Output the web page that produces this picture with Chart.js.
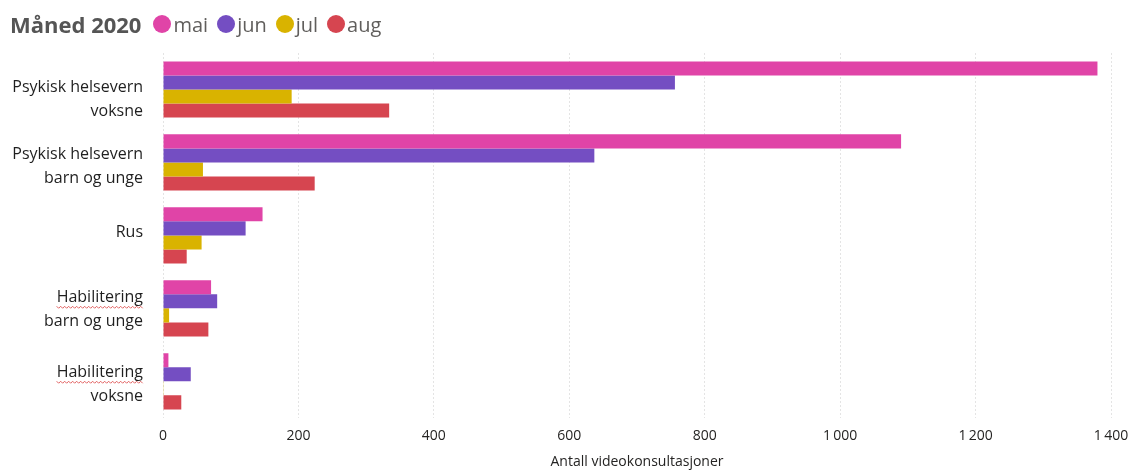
<!DOCTYPE html>
<html>
<head>
<meta charset="utf-8">
<script src="https://cdn.jsdelivr.net/npm/chart.js@4/dist/chart.umd.min.js"></script>
<style>
  html, body { margin: 0; padding: 0; background: #fff; }
  #wrap { position: relative; width: 1136px; height: 470px; }
  #legend {
    position: absolute; left: 10px; top: 9px;
    font-family: "Open Sans", "Noto Sans", sans-serif; font-size: 20px; color: #605e5c;
    display: flex; align-items: center; white-space: nowrap;
  }
  #legend .title { font-weight: bold; font-size: 22px; color: #555; margin-right: 12px; }
  #legend .item { display: flex; align-items: center; margin-right: 9px; }
  #legend .dot { width: 18px; height: 18px; border-radius: 50%; margin-right: 2px; }
</style>
</head>
<body>
<div id="wrap">
  <div id="legend"><span class="title">Måned 2020</span></div>
  <canvas id="c" width="1136" height="470"></canvas>
</div>
<script>
// Tjenesteområder (kategorier)
const categories = [
  ["Psykisk helsevern", "voksne"],
  ["Psykisk helsevern", "barn og unge"],
  ["Rus"],
  ["Habilitering", "barn og unge"],
  ["Habilitering", "voksne"]
];

// Antall videokonsultasjoner per måned
const months = ["mai", "jun", "jul", "aug"];
const mai = [1380, 1090, 147, 71, 8];
const jun = [756, 637, 122, 80, 41];
const jul = [190, 59, 57, 9, 1];
const aug = [334, 224, 35, 67, 27];

const xTicks = [0, 200, 400, 600, 800, 1000, 1200, 1400];
const colors = ["#E044A7", "#744EC2", "#D9B300", "#D64550"];
const seriesValues = [mai, jun, jul, aug];

const FONT = "'Open Sans', 'Noto Sans', sans-serif";
const LABEL_SIZE = 16;
const LABEL_LINE = 24;
// vertikal forskyvning av kategoritekstene (px)
const labelShift = [10, 4, -3, 1, 3];

const legendEl = document.getElementById("legend");
months.forEach((m, i) => {
  const item = document.createElement("span");
  item.className = "item";
  item.innerHTML = '<span class="dot" style="background:' + colors[i] + '"></span>' + m;
  legendEl.appendChild(item);
});

const fmt = v => String(v).replace(/\B(?=(\d{3})+(?!\d))/g, "\u2009");

// Kategoritekster til venstre, med rød bølgestrek under «Habilitering»
const categoryLabels = {
  id: "categoryLabels",
  afterDraw(chart) {
    const y = chart.scales.y;
    const ctx = chart.ctx;
    const right = y.right - 20;
    ctx.save();
    ctx.font = LABEL_SIZE + "px " + FONT;
    ctx.fillStyle = "#1f1f1f";
    ctx.textAlign = "right";
    ctx.textBaseline = "middle";
    categories.forEach((lines, i) => {
      const cy = y.getPixelForValue(i) + labelShift[i];
      const top = cy - (lines.length - 1) * LABEL_LINE / 2;
      lines.forEach((txt, j) => {
        const ly = top + j * LABEL_LINE;
        ctx.fillText(txt, right, ly);
        if (txt === "Habilitering") {
          const w = ctx.measureText(txt).width;
          const base = ly + LABEL_SIZE * 0.62;
          ctx.save();
          ctx.strokeStyle = "#e06060";
          ctx.lineWidth = 1;
          ctx.beginPath();
          for (let x = right - w, k = 0; x <= right; x += 2, k++) {
            const yy = base + (k % 2 ? 1 : -1);
            if (k === 0) ctx.moveTo(x, yy); else ctx.lineTo(x, yy);
          }
          ctx.stroke();
          ctx.restore();
        }
      });
    });
    ctx.restore();
  }
};

new Chart(document.getElementById("c"), {
  type: "bar",
  data: {
    labels: categories,
    datasets: months.map((m, i) => ({
      label: m,
      data: seriesValues[i],
      backgroundColor: colors[i],
      borderWidth: 0,
      categoryPercentage: 0.77,
      barPercentage: 1.0
    }))
  },
  options: {
    indexAxis: "y",
    responsive: false,
    animation: false,
    layout: { padding: { top: 53, right: 0, left: 0, bottom: 0 } },
    plugins: { legend: { display: false }, tooltip: { enabled: false } },
    scales: {
      x: {
        min: 0, max: 1400,
        afterBuildTicks: axis => { axis.ticks = xTicks.map(v => ({ value: v })); },
        afterFit: axis => { axis.paddingRight = 25; },
        ticks: {
          callback: v => fmt(v),
          color: "#252423",
          font: { family: FONT, size: 14 },
          padding: 10
        },
        grid: { color: "#e4e4e4", drawTicks: false },
        border: { display: false, dash: [2, 2] },
        title: {
          display: true,
          text: "Antall videokonsultasjoner",
          color: "#252423",
          font: { family: FONT, size: 14, lineHeight: 1.1 },
          padding: { top: 0, bottom: 0 }
        }
      },
      y: {
        afterFit: scale => { scale.width = 163; },
        grid: { display: false },
        border: { display: false },
        ticks: { display: false }
      }
    }
  },
  plugins: [categoryLabels]
});
</script>
</body>
</html>
